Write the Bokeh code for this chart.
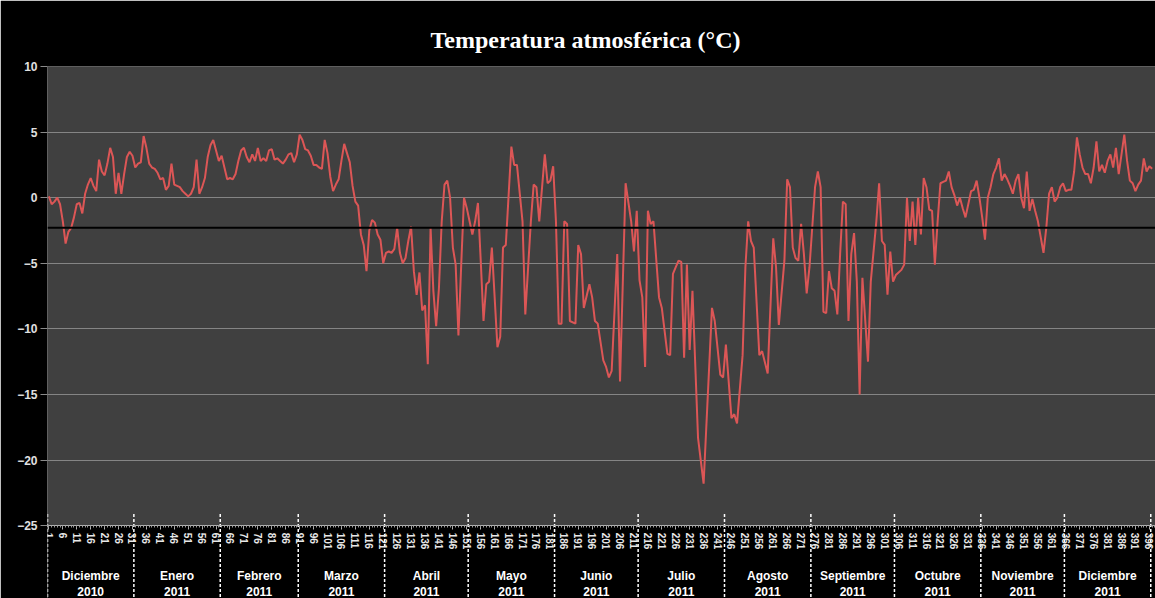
from bokeh.plotting import figure
from bokeh.models import Range1d, FixedTicker, BoxAnnotation, Span, ColumnDataSource
from bokeh.core.properties import value
from bokeh.embed import file_html
from bokeh.resources import INLINE

# ---------------- data ----------------
title_text = "Temperatura atmosférica (°C)"

days = list(range(1, 153)) + [
    153, 154, 155, 156, 157, 158, 159, 160, 162, 163, 164, 165, 167, 168, 169,
    171, 172, 174, 175, 176, 177, 179, 180, 181, 182, 183, 184, 185, 186, 187,
    188, 190, 191, 192, 193, 195, 196, 197, 198, 200, 201, 202, 203, 205, 206,
    208, 210, 211, 212, 213, 214, 215, 216, 217, 218, 220, 221, 223, 224, 225,
    226, 227, 228, 229, 230, 231, 232, 234, 236, 239, 240, 242, 243, 244, 246,
    247, 248, 250, 251, 252, 253, 254, 256, 257, 259, 261, 262, 263, 265, 266,
    267, 268, 269, 270, 271, 272, 273, 274, 276, 277, 278, 279, 280, 281, 282,
    283, 284, 285, 286, 287, 288, 289, 290, 291, 292, 293, 295, 296, 298, 299,
    300, 301, 302, 303, 304, 305, 307, 308] + list(range(309, 398))

temps = [
    # days 1-152
    0.1, -0.5, -0.3, 0.0, -0.5, -1.8, -3.5, -2.6, -2.3, -1.5,
    -0.5, -0.4, -1.2, 0.3, 1.0, 1.5, 0.9, 0.5, 2.9, 2.0,
    1.7, 2.6, 3.8, 3.1, 0.3, 1.9, 0.3, 1.8, 3.1, 3.5,
    3.2, 2.3, 2.6, 2.7, 4.7, 3.8, 2.6, 2.3, 2.2, 1.9,
    1.4, 1.5, 0.6, 0.9, 2.6, 1.0, 0.9, 0.8, 0.5, 0.3,
    0.1, 0.3, 0.8, 2.9, 0.3, 0.8, 1.5, 3.1, 4.0, 4.4,
    3.6, 2.8, 3.2, 2.3, 1.4, 1.5, 1.4, 1.8, 2.8, 3.6,
    3.8, 3.1, 2.7, 3.3, 2.8, 3.8, 2.8, 3.0, 2.8, 3.6,
    3.7, 2.9, 3.0, 2.8, 2.6, 2.9, 3.3, 3.4, 2.7, 3.3,
    4.8, 4.4, 3.7, 3.6, 3.2, 2.5, 2.5, 2.3, 2.2, 4.4,
    3.4, 1.6, 0.5, 1.0, 1.4, 2.8, 4.1, 3.4, 2.7, 0.9,
    -0.3, -0.6, -2.8, -3.6, -5.6, -2.5, -1.7, -1.9, -2.8, -3.2,
    -5.0, -4.2, -4.1, -4.2, -3.9, -2.3, -4.2, -5.0, -4.6, -3.3,
    -2.2, -5.6, -7.4, -5.7, -8.6, -8.2, -12.7, -2.3, -7.1, -9.8,
    -6.9, -1.8, 1.0, 1.3, 0.0, -3.8, -5.1, -10.5, -5.1, 0.0,
    -0.8, -1.8,
    # days 153-308
    -2.8, -1.8, -0.4, -4.8, -9.4, -6.6, -6.4, -3.8, -11.4, -10.6, -3.8, -3.6, 3.9, 2.5, 2.5,
    -1.8, -8.9, -1.8, 1.0, 0.8, -1.8, 3.3, 1.1, 1.3, 2.4, -1.8, -9.6, -9.6, -1.8, -2.0,
    -9.4, -9.6, -3.6, -4.3, -8.4, -6.6, -7.6, -9.4, -9.6, -12.4, -12.9, -13.7, -13.2, -4.3, -14.0,
    1.1, -1.8, -4.1, -1.0, -6.3, -7.6, -12.9, -1.0, -2.0, -1.8, -7.6, -8.4, -11.9, -12.0, -5.8,
    -5.3, -4.8, -4.9, -12.2, -5.1, -11.6, -7.1, -18.3, -21.8, -8.4, -9.4, -13.5, -13.7, -11.2, -16.8,
    -16.5, -17.2, -12.0, -5.3, -1.8, -3.3, -3.8, -12.0, -11.7, -13.4, -3.1, -5.3, -9.7, -4.8, 1.4,
    0.8, -3.8, -4.6, -4.8, -2.0, -4.3, -7.3, -5.3, 0.8, 2.0, 0.8, -8.7, -8.8, -5.6, -6.9,
    -7.1, -8.9, -4.3, -0.3, -0.5, -9.4, -4.3, -2.7, -6.4, -15.0, -6.1, -12.5, -6.4, -1.8, 1.1,
    -3.3, -3.6, -7.4, -4.1, -6.4, -5.9, -5.5, -5.1,
    # days 309-397
    0.0, -3.3, -0.3, -3.6, 0.0, -2.8, 1.5, 0.8, -0.9, -1.0,
    -5.1, -1.8, 1.1, 1.2, 1.3, 2.0, 0.8, 0.2, -0.6, 0.0,
    -0.8, -1.5, -0.5, 0.5, 0.6, 1.3, 0.0, -1.5, -3.2, 0.0,
    0.8, 1.8, 2.3, 3.0, 1.3, 1.8, 1.4, 0.9, 0.3, 1.3,
    1.8, 0.0, -0.8, 2.0, -1.0, -0.1, -1.0, -1.8, -3.0, -4.2,
    -2.3, 0.3, 0.8, -0.3, 0.0, 0.8, 1.1, 0.5, 0.6, 0.6,
    2.0, 4.6, 3.3, 2.3, 1.8, 1.8, 1.1, 2.3, 4.3, 2.0,
    2.5, 1.9, 2.8, 3.3, 2.3, 3.8, 1.8, 3.3, 4.8, 2.8,
    1.3, 1.1, 0.5, 1.0, 1.3, 3.0, 2.0, 2.4, 2.2,
]

mean_temp = -2.3

x_tick_days = list(range(1, 397, 5))
y_ticks = [-25, -20, -15, -10, -5, 0, 5, 10]
grid_ticks = [-20, -15, -10, -5, 0, 5]

month_names = ["Diciembre", "Enero", "Febrero", "Marzo", "Abril", "Mayo", "Junio",
               "Julio", "Agosto", "Septiembre", "Octubre", "Noviembre", "Diciembre"]
month_years = ["2010"] + ["2011"] * 12
month_lengths = [31, 31, 28, 31, 30, 31, 30, 31, 31, 30, 31, 30, 31]

# ---------------- derived positions ----------------
edges = [0.5]
for n in month_lengths:
    edges.append(edges[-1] + n)
centers = [(edges[i] + edges[i + 1]) / 2 for i in range(len(month_lengths))]

n_len = min(len(days), len(temps))
days = days[:n_len]
temps = temps[:n_len]

p = figure(width=1155, height=598,
           x_range=Range1d(0.5, 398.2), y_range=Range1d(-30.55, 10),
           output_backend="svg", toolbar_location=None,
           min_border_left=47, min_border_right=0, min_border_top=66, min_border_bottom=0,
           background_fill_color="#404040", border_fill_color="black",
           outline_line_color=None)

p.title.text = title_text
p.title.align = "left"
p.title.offset = 383
p.title.text_font = "Liberation Serif"
p.title.text_font_style = "bold"
p.title.text_font_size = "24px"
p.title.text_color = "white"
p.title.standoff = 27

# black area under the plot region
p.add_layout(BoxAnnotation(top=-25, fill_color="black", fill_alpha=1.0,
                           line_color=None, level="underlay"))

# grid
p.xgrid.visible = False
p.ygrid.ticker = FixedTicker(ticks=grid_ticks)
p.ygrid.grid_line_color = "#858585"
p.ygrid.grid_line_width = 1

# y axis
ya = p.yaxis[0]
ya.ticker = FixedTicker(ticks=y_ticks)
ya.axis_line_color = None
ya.major_tick_out = 7
ya.major_tick_in = 0
ya.major_tick_line_color = "#8a8a8a"
ya.minor_tick_line_color = None
ya.major_label_text_color = "#e0e0e0"
ya.major_label_text_font = "Liberation Sans"
ya.major_label_text_font_style = "bold"
ya.major_label_text_font_size = "12px"
ya.major_label_standoff = 3

# x axis fixed at -25
xa = p.xaxis[0]
xa.fixed_location = -25
xa.ticker = FixedTicker(ticks=x_tick_days, minor_ticks=list(range(1, 399)))
xa.axis_line_color = "#b0b0b0"
xa.major_tick_line_color = "#b0b0b0"
xa.minor_tick_line_color = "#9a9a9a"
xa.major_tick_out = 4
xa.major_tick_in = 0
xa.minor_tick_out = 2
xa.minor_tick_in = 0
xa.major_label_orientation = "vertical"
xa.major_label_text_color = "#e8e8e8"
xa.major_label_text_font = "Liberation Sans"
xa.major_label_text_font_style = "bold"
xa.major_label_text_font_size = "10px"
xa.major_label_standoff = 3

# data line and mean
p.line(days, temps, line_color="#dc5656", line_width=2)
p.add_layout(Span(location=mean_temp, dimension="width", line_color="black", line_width=2))

# month separators and labels
p.segment(x0=edges, y0=[-24.1] * len(edges), x1=edges, y1=[-30.6] * len(edges),
          line_color="white", line_width=1.5, line_dash="3 2")
src = ColumnDataSource(dict(x=centers, name=month_names, year=month_years))
p.text(x="x", y=-28.85, text="name", source=src, text_font=value("Liberation Sans"),
       text_font_style="bold", text_font_size="12px", text_color="white",
       text_align="center", text_baseline="middle")
p.text(x="x", y=-30.0, text="year", source=src, text_font=value("Liberation Sans"),
       text_font_style="bold", text_font_size="12px", text_color="white",
       text_align="center", text_baseline="middle")

open("out.html", "w").write(file_html(p, INLINE))
